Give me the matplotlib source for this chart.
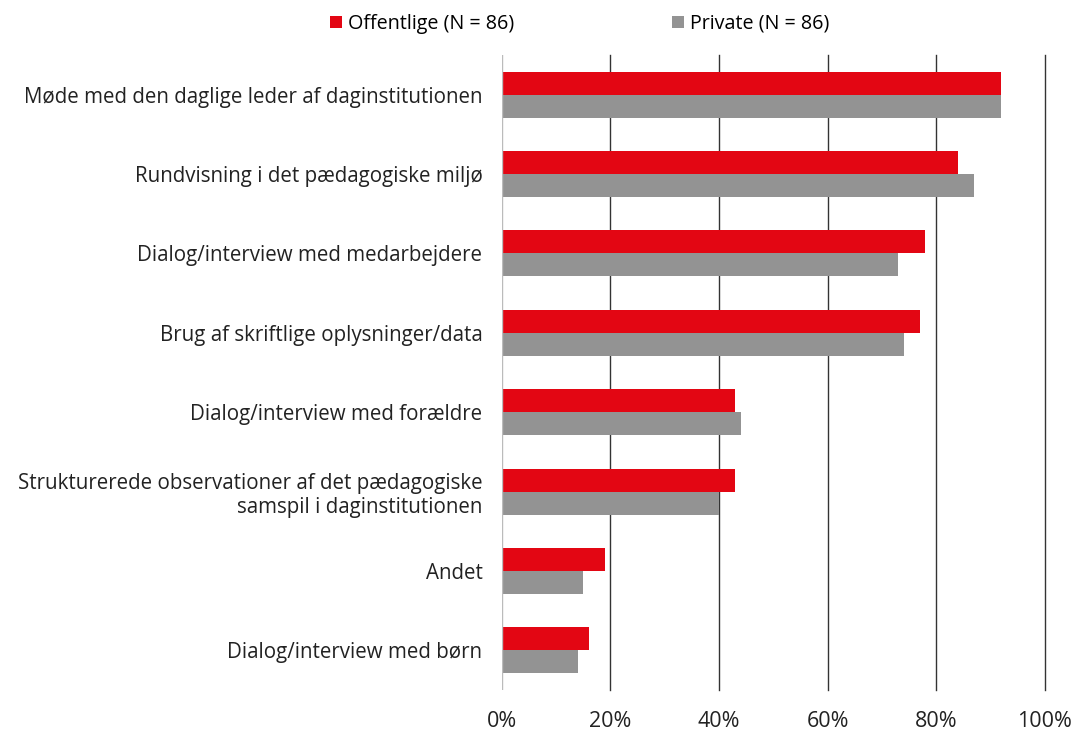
import matplotlib
matplotlib.use('Agg')
from matplotlib import pyplot as plt
import numpy as np

categories = ['Møde med den daglige leder af daginstitutionen',
              'Rundvisning i det pædagogiske miljø',
              'Dialog/interview med medarbejdere',
              'Brug af skriftlige oplysninger/data',
              'Dialog/interview med forældre',
              'Strukturerede observationer af det pædagogiske\nsamspil i daginstitutionen',
              'Andet',
              'Dialog/interview med børn']
offentlige = [92, 84, 78, 77, 43, 43, 19, 16]
private = [92, 87, 73, 74, 44, 40, 15, 14]
ticks = [0, 20, 40, 60, 80, 100]

plt.rcParams['font.family'] = ['Open Sans', 'DejaVu Sans']
red = '#e30613'
grey = '#939393'

fig = plt.figure(figsize=(10.77, 7.31), dpi=100)
ax = fig.add_axes([0.466, 0.056, 0.504, 0.869])

y = np.arange(len(categories))
h = 0.29
ax.barh(y - h/2, offentlige, height=h, color=red, label='Offentlige (N = 86)', zorder=3)
ax.barh(y + h/2, private, height=h, color=grey, label='Private (N = 86)', zorder=3)

ax.set_ylim(len(categories) - 0.5, -0.5)
ax.set_xlim(0, 100)
ax.set_yticks(y)
ax.set_yticklabels(categories, fontsize=14.8, color='#222222')
ax.set_xticks(ticks)
ax.set_xticklabels([str(t) + '%' for t in ticks], fontsize=15.5, color='#222222')
ax.tick_params(length=0)
ax.tick_params(axis='x', pad=15)
ax.tick_params(axis='y', pad=14)
for t in ticks[1:]:
    ax.axvline(t, color='#333333', lw=1, zorder=1, clip_on=False)
ax.axvline(0, color='#bbbbbb', lw=1, zorder=4)
for s in ax.spines.values():
    s.set_visible(False)

fig.legend(*ax.get_legend_handles_labels(), loc='center left',
           bbox_to_anchor=(330 / 1077, 1 - 24 / 731), ncol=2, frameon=False,
           fontsize=14.2, handlelength=0.6, handleheight=0.6, handletextpad=0.3,
           columnspacing=8.0, borderaxespad=0, borderpad=0)

plt.savefig('out.png', dpi=100)
